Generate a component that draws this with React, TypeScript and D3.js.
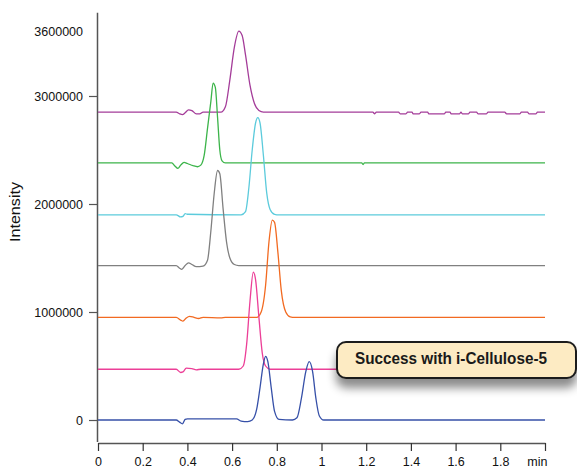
import { useRef, useEffect } from 'react'
import * as d3 from 'd3'

// retention time (min), intensity pairs
const purple: [number, number][] = [
  [0, 2850000], [0.35, 2850000], [0.365, 2835000], [0.378, 2828000], [0.39, 2845000],
  [0.405, 2872000], [0.42, 2865000], [0.44, 2835000], [0.455, 2835000], [0.47, 2850000],
  [0.55, 2850000], [0.57, 2900000], [0.59, 3150000], [0.61, 3450000], [0.63, 3600000],
  [0.645, 3560000], [0.66, 3380000], [0.68, 3100000], [0.7, 2930000], [0.72, 2865000],
  [0.74, 2850000], [1.23, 2850000], [1.238, 2835000], [1.245, 2850000], [1.345, 2850000],
  [1.352, 2835000], [1.378, 2835000], [1.385, 2850000], [1.405, 2850000], [1.41, 2835000],
  [1.438, 2835000], [1.445, 2850000], [1.475, 2850000], [1.48, 2835000], [1.55, 2835000],
  [1.556, 2850000], [1.575, 2850000], [1.58, 2835000], [1.618, 2835000], [1.624, 2850000],
  [1.63, 2835000], [1.658, 2835000], [1.664, 2850000], [1.694, 2850000], [1.7, 2835000],
  [1.738, 2835000], [1.745, 2850000], [1.82, 2850000], [1.828, 2835000], [1.888, 2835000],
  [1.894, 2850000], [1.922, 2850000], [1.928, 2835000], [1.96, 2835000], [1.966, 2850000],
  [2.0, 2850000]
]

const green: [number, number][] = [
  [0, 2380000], [0.33, 2380000], [0.345, 2350000], [0.357, 2330000], [0.37, 2360000],
  [0.385, 2385000], [0.4, 2375000], [0.425, 2355000], [0.445, 2345000], [0.46, 2360000],
  [0.475, 2450000], [0.49, 2700000], [0.505, 2950000], [0.515, 3120000], [0.525, 3080000],
  [0.535, 2800000], [0.545, 2500000], [0.555, 2400000], [0.57, 2380000], [1.18, 2380000],
  [1.186, 2365000], [1.192, 2380000], [2.0, 2380000]
]

const cyan: [number, number][] = [
  [0, 1900000], [0.35, 1900000], [0.37, 1880000], [0.38, 1885000], [0.39, 1910000],
  [0.4, 1905000], [0.64, 1900000], [0.66, 1930000], [0.675, 2150000], [0.69, 2500000],
  [0.705, 2750000], [0.715, 2800000], [0.725, 2750000], [0.74, 2450000], [0.755, 2100000],
  [0.77, 1950000], [0.79, 1905000], [0.81, 1900000], [2.0, 1900000]
]

const gray: [number, number][] = [
  [0, 1430000], [0.35, 1430000], [0.365, 1405000], [0.375, 1395000], [0.39, 1430000],
  [0.405, 1455000], [0.42, 1440000], [0.44, 1420000], [0.47, 1425000], [0.49, 1480000],
  [0.505, 1750000], [0.52, 2100000], [0.535, 2310000], [0.545, 2280000], [0.56, 1950000],
  [0.575, 1650000], [0.59, 1500000], [0.61, 1440000], [0.63, 1430000], [2.0, 1430000]
]

const orange: [number, number][] = [
  [0, 950000], [0.35, 950000], [0.37, 925000], [0.38, 915000], [0.395, 945000],
  [0.41, 960000], [0.43, 950000], [0.45, 940000], [0.47, 950000], [0.55, 945000],
  [0.57, 950000], [0.71, 950000], [0.73, 1000000], [0.75, 1250000], [0.765, 1650000],
  [0.78, 1850000], [0.79, 1830000], [0.805, 1550000], [0.82, 1200000], [0.84, 1000000],
  [0.86, 955000], [0.88, 950000], [2.0, 950000]
]

const pink: [number, number][] = [
  [0, 470000], [0.35, 470000], [0.37, 440000], [0.38, 445000], [0.395, 480000],
  [0.42, 475000], [0.44, 465000], [0.46, 470000], [0.63, 470000], [0.65, 500000],
  [0.665, 700000], [0.68, 1100000], [0.695, 1370000], [0.705, 1300000], [0.72, 950000],
  [0.735, 620000], [0.75, 500000], [0.77, 470000], [2.0, 470000]
]

const blue: [number, number][] = [
  [0, 0], [0.35, 0], [0.365, -20000], [0.378, -35000], [0.39, 5000], [0.4, 10000],
  [0.62, 10000], [0.64, -10000], [0.67, -15000], [0.69, 0], [0.71, 100000],
  [0.725, 300000], [0.74, 520000], [0.75, 590000], [0.76, 540000], [0.775, 300000],
  [0.79, 80000], [0.81, 5000], [0.87, 0], [0.89, 20000], [0.91, 200000], [0.93, 450000],
  [0.945, 540000], [0.96, 450000], [0.975, 200000], [0.99, 40000], [1.01, 0], [2.0, 0]
]

const traces = [
  { data: purple, color: '#a43c99' },
  { data: green, color: '#3cb44a' },
  { data: cyan, color: '#5ccbdc' },
  { data: gray, color: '#808080' },
  { data: orange, color: '#f26a21' },
  { data: pink, color: '#ec3f97' },
  { data: blue, color: '#3650a8' }
]

const yTicks = [0, 1000000, 2000000, 3000000, 3600000]
const xTicks = [0, 0.2, 0.4, 0.6, 0.8, 1, 1.2, 1.4, 1.6, 1.8, 2]
const calloutText = 'Success with i-Cellulose-5'

const App = () => {
  const ref = useRef<SVGSVGElement>(null)

  useEffect(() => {
    const totalWidth = 577,
      totalHeight = 468

    const svg = d3.select(ref.current)
    svg.attr('width', totalWidth).attr('height', totalHeight)
    svg.selectAll('*').remove()

    const x = d3.scaleLinear().domain([0, 2]).range([98, 545])
    const y = d3.scaleLinear().domain([-200000, 3775000]).range([441.6, 12.3])

    const font = 'Liberation Sans, Arial, Helvetica, sans-serif'

    // shadow for the callout
    const defs = svg.append('defs')
    const filter = defs.append('filter').attr('id', 'shadow')
      .attr('x', '-10%').attr('y', '-20%').attr('width', '130%').attr('height', '190%')
    filter.append('feDropShadow')
      .attr('dx', 0).attr('dy', 9).attr('stdDeviation', 5)
      .attr('flood-color', '#000').attr('flood-opacity', 0.45)

    // Y AXIS
    const yAxis = d3.axisLeft(y)
      .tickValues(yTicks)
      .tickSize(8)
      .tickSizeOuter(0)
      .tickPadding(6)
      .tickFormat(d => String(d))
    const gy = svg.append('g')
      .attr('transform', 'translate(97, 0)')
      .call(yAxis)
    gy.select('.domain').attr('stroke', '#555').attr('stroke-width', 1.5)
    gy.selectAll('.tick line').attr('stroke', '#555').attr('stroke-width', 1.2)
      .filter((d: any) => d === 3600000).remove()
    gy.selectAll('.tick text').attr('font-family', font).attr('font-size', 12.5).attr('fill', '#111')

    // X AXIS
    const xAxis = d3.axisBottom(x)
      .tickValues(xTicks)
      .tickSize(8)
      .tickSizeOuter(0)
      .tickPadding(6)
      .tickFormat((d: any) => d === 2 ? 'min' : String(+d.toFixed(1)))
    const gx = svg.append('g')
      .attr('transform', 'translate(0, 443)')
      .call(xAxis)
    gx.select('.domain').attr('stroke', '#555').attr('stroke-width', 1.5)
    gx.selectAll('.tick line').attr('stroke', '#333').attr('stroke-width', 1.2)
    gx.selectAll('.tick text').attr('font-family', font).attr('font-size', 12.5).attr('fill', '#111')
    gx.selectAll('.tick text').filter((d: any) => d === 2)
      .attr('text-anchor', 'end').attr('x', 2)

    svg.append('text')
      .attr('transform', 'translate(20, 212) rotate(-90)')
      .attr('text-anchor', 'middle')
      .attr('font-family', font)
      .attr('font-size', 14.5)
      .attr('textLength', 60)
      .attr('lengthAdjust', 'spacingAndGlyphs')
      .attr('fill', '#111')
      .text('Intensity')

    // TRACES
    const line = d3.line<[number, number]>()
      .x(d => x(d[0]))
      .y(d => y(d[1]))
      .curve(d3.curveMonotoneX)

    svg.append('g')
      .selectAll('path')
      .data(traces)
      .enter()
      .append('path')
        .attr('d', d => line(d.data))
        .attr('fill', 'none')
        .attr('stroke', d => d.color)
        .attr('stroke-width', 1.3)

    // CALLOUT
    const callout = svg.append('g')
    callout.append('rect')
      .attr('x', 337).attr('y', 342)
      .attr('width', 239).attr('height', 36)
      .attr('rx', 9)
      .attr('fill', '#fdebc3')
      .attr('stroke', '#1e1e1e')
      .attr('stroke-width', 2)
      .attr('filter', 'url(#shadow)')
    callout.append('text')
      .attr('x', 355).attr('y', 363.5)
      .attr('font-family', 'Liberation Sans Narrow, Arial Narrow, Liberation Sans, Arial, sans-serif')
      .attr('font-weight', 'bold')
      .attr('font-size', 17)
      .attr('textLength', 192)
      .attr('lengthAdjust', 'spacingAndGlyphs')
      .attr('fill', '#1a1a1a')
      .text(calloutText)
  }, [])

  return (
    <svg ref={ ref } style={ { position: 'absolute', left: 0, top: 0, background: '#fff' } }></svg>
  )
}

export default App
